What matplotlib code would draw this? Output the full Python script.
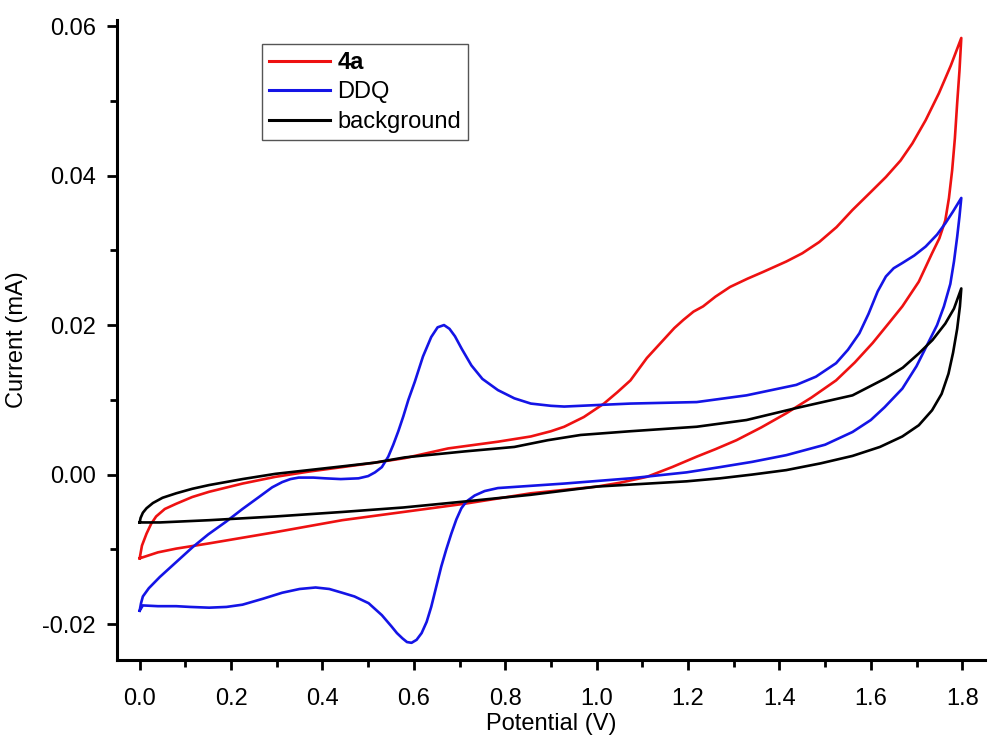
import matplotlib
matplotlib.use("Agg")
import matplotlib.pyplot as plt
from matplotlib.ticker import MultipleLocator, FormatStrFormatter

plt.rcParams['font.family'] = ['Liberation Sans', 'DejaVu Sans']
plt.rcParams['axes.unicode_minus'] = False

# 4a: forward scan (0 -> 1.8 V) then return (1.8 -> 0 V)
x_4a = [0.0, 0.005, 0.015, 0.025, 0.036, 0.055, 0.080, 0.115, 0.152, 0.225, 0.297, 0.370,
        0.443, 0.515, 0.580, 0.675, 0.784, 0.856, 0.900, 0.929, 0.972, 1.016, 1.045,
        1.074, 1.110, 1.146, 1.170, 1.190, 1.212, 1.233, 1.260, 1.292, 1.330, 1.364,
        1.415, 1.450, 1.487, 1.525, 1.560, 1.600, 1.633, 1.665, 1.691, 1.720, 1.749,
        1.775, 1.798,
        1.794, 1.789, 1.784, 1.778, 1.771, 1.763, 1.750, 1.734, 1.705, 1.669, 1.640,
        1.604, 1.565, 1.524, 1.470, 1.415, 1.360, 1.306, 1.260, 1.219, 1.165, 1.110,
        1.050, 1.001, 0.856, 0.711, 0.577, 0.443, 0.297, 0.152, 0.080, 0.040, 0.0]
y_4a = [-0.0112, -0.0095, -0.0079, -0.0066, -0.0056, -0.0046, -0.0039, -0.0030, -0.0023,
        -0.0012, -0.0003, 0.0004, 0.0010, 0.0016, 0.0022, 0.0035, 0.0044, 0.0051, 0.0058,
        0.0064, 0.0077, 0.0095, 0.0110, 0.0126, 0.0156, 0.0180, 0.0196, 0.0207, 0.0218,
        0.0225, 0.0238, 0.0251, 0.0262, 0.0271, 0.0285, 0.0296, 0.0311, 0.0331, 0.0354,
        0.0378, 0.0398, 0.0420, 0.0443, 0.0474, 0.0510, 0.0547, 0.0584,
        0.0540, 0.0497, 0.0450, 0.0407, 0.0370, 0.0340, 0.0316, 0.0296, 0.0258, 0.0225,
        0.0203, 0.0176, 0.0150, 0.0126, 0.0103, 0.0082, 0.0063, 0.0046, 0.0034, 0.0024,
        0.0010, -0.0003, -0.0011, -0.0016, -0.0025, -0.0039, -0.0050, -0.0061, -0.0077,
        -0.0092, -0.0099, -0.0104, -0.0112]

# DDQ
x_ddq = [0.0, 0.003, 0.007, 0.020, 0.044, 0.080, 0.116, 0.150, 0.189, 0.225, 0.261,
         0.290, 0.312, 0.330, 0.348, 0.380, 0.406, 0.440, 0.479, 0.500, 0.515, 0.530,
         0.544, 0.555, 0.566, 0.577, 0.588, 0.602, 0.620, 0.638, 0.652, 0.666, 0.678,
         0.690, 0.705, 0.726, 0.750, 0.784, 0.820, 0.856, 0.900, 0.929, 1.000, 1.074,
         1.219, 1.328, 1.437, 1.480, 1.524, 1.550, 1.575, 1.595, 1.615, 1.633, 1.650,
         1.669, 1.695, 1.720, 1.745, 1.763, 1.780, 1.798,
         1.794, 1.789, 1.782, 1.774, 1.760, 1.745, 1.727, 1.700, 1.669, 1.630, 1.600,
         1.560, 1.500, 1.415, 1.340, 1.270, 1.197, 1.074, 0.929, 0.784, 0.755, 0.733,
         0.715, 0.704, 0.693, 0.682, 0.671, 0.660, 0.649, 0.638, 0.628, 0.617, 0.606,
         0.595, 0.585, 0.575, 0.563, 0.551, 0.530, 0.501, 0.470, 0.443, 0.415, 0.385,
         0.350, 0.312, 0.270, 0.225, 0.190, 0.152, 0.110, 0.080, 0.040, 0.007, 0.0]
y_ddq = [-0.0182, -0.0172, -0.0163, -0.0152, -0.0137, -0.0117, -0.0097, -0.0080, -0.0063,
         -0.0046, -0.0030, -0.0017, -0.0010, -0.0006, -0.0004, -0.0004, -0.0005, -0.0006,
         -0.0005, -0.0002, 0.0003, 0.0010, 0.0024, 0.0040, 0.0058, 0.0078, 0.0100, 0.0124,
         0.0158, 0.0184, 0.0197, 0.0200, 0.0195, 0.0185, 0.0168, 0.0146, 0.0128, 0.0113,
         0.0102, 0.0095, 0.0092, 0.0091, 0.0093, 0.0095, 0.0097, 0.0106, 0.0120, 0.0131,
         0.0149, 0.0167, 0.0189, 0.0215, 0.0245, 0.0265, 0.0276, 0.0283, 0.0293, 0.0305,
         0.0321, 0.0336, 0.0352, 0.0370,
         0.0345, 0.0318, 0.0285, 0.0255, 0.0225, 0.0200, 0.0178, 0.0145, 0.0115, 0.0090,
         0.0073, 0.0057, 0.0040, 0.0026, 0.0017, 0.0010, 0.0003, -0.0005, -0.0012, -0.0018,
         -0.0022, -0.0028, -0.0036, -0.0045, -0.0060, -0.0079, -0.0100, -0.0123, -0.0150,
         -0.0177, -0.0197, -0.0212, -0.0221, -0.0225, -0.0224, -0.0219, -0.0212, -0.0203,
         -0.0188, -0.0172, -0.0163, -0.0158, -0.0153, -0.0151, -0.0153, -0.0158, -0.0166,
         -0.0174, -0.0177, -0.0178, -0.0177, -0.0176, -0.0176, -0.0175, -0.0182]

# background
x_bg = [0.0, 0.002, 0.007, 0.015, 0.029, 0.050, 0.080, 0.115, 0.152, 0.225, 0.297,
        0.370, 0.443, 0.515, 0.580, 0.711, 0.820, 0.893, 0.965, 1.074, 1.219, 1.328,
        1.437, 1.560, 1.633, 1.670, 1.705, 1.735, 1.763, 1.782, 1.798,
        1.795, 1.789, 1.780, 1.770, 1.755, 1.734, 1.705, 1.669, 1.620, 1.560, 1.490,
        1.415, 1.340, 1.270, 1.197, 1.001, 0.856, 0.711, 0.577, 0.443, 0.297, 0.152,
        0.044, 0.0]
y_bg = [-0.0064, -0.0058, -0.0051, -0.0045, -0.0038, -0.0031, -0.0025, -0.0019, -0.0014,
        -0.0006, 0.0001, 0.0006, 0.0011, 0.0016, 0.0023, 0.0031, 0.0037, 0.0046, 0.0053,
        0.0058, 0.0064, 0.0073, 0.0089, 0.0106, 0.0129, 0.0143, 0.0162, 0.0180, 0.0202,
        0.0222, 0.0249,
        0.0225, 0.0195, 0.0163, 0.0135, 0.0108, 0.0086, 0.0066, 0.0051, 0.0037, 0.0025,
        0.0015, 0.0006, 0.0000, -0.0005, -0.0009, -0.0016, -0.0027, -0.0036, -0.0044,
        -0.0050, -0.0056, -0.0061, -0.0064, -0.0064]

fig = plt.figure(figsize=(9.9, 7.42), dpi=100)
ax = fig.add_axes([0.118, 0.1105, 0.877, 0.8625])

lw = 1.9
ax.plot(x_4a, y_4a, color='#ee1111', lw=lw, label='4a', solid_joinstyle='round')
ax.plot(x_ddq, y_ddq, color='#1414e6', lw=lw, label='DDQ', solid_joinstyle='round')
ax.plot(x_bg, y_bg, color='black', lw=lw, label='background', solid_joinstyle='round')

ax.set_xlim(-0.05, 1.85)
ax.set_ylim(-0.0248, 0.0608)

ax.spines['top'].set_visible(False)
ax.spines['right'].set_visible(False)
ax.spines['left'].set_linewidth(2.2)
ax.spines['bottom'].set_linewidth(2.2)

ax.xaxis.set_major_locator(MultipleLocator(0.2))
ax.xaxis.set_minor_locator(MultipleLocator(0.1))
ax.yaxis.set_major_locator(MultipleLocator(0.02))
ax.yaxis.set_minor_locator(MultipleLocator(0.01))
ax.xaxis.set_major_formatter(FormatStrFormatter('%.1f'))
ax.yaxis.set_major_formatter(FormatStrFormatter('%.2f'))
ax.tick_params(which='major', direction='out', length=7, width=2, labelsize=17)
ax.tick_params(which='minor', direction='out', length=5, width=2)
ax.tick_params(axis='x', which='major', pad=13)
ax.tick_params(axis='y', which='major', pad=8)

ax.set_xlabel('Potential (V)', fontsize=17, labelpad=2)
ax.set_ylabel('Current (mA)', fontsize=17, labelpad=10)

leg = ax.legend(loc='upper left', bbox_to_anchor=(0.167, 0.963), borderaxespad=0,
                fontsize=17, fancybox=False, framealpha=1, edgecolor='#555555',
                handlelength=2.6, handletextpad=0.3, labelspacing=0.32, borderpad=0.3)
leg.get_frame().set_linewidth(1.0)
leg.get_texts()[0].set_fontweight('bold')
for line in leg.get_lines():
    line.set_linewidth(2.2)

fig.savefig('out.png', dpi=100)
